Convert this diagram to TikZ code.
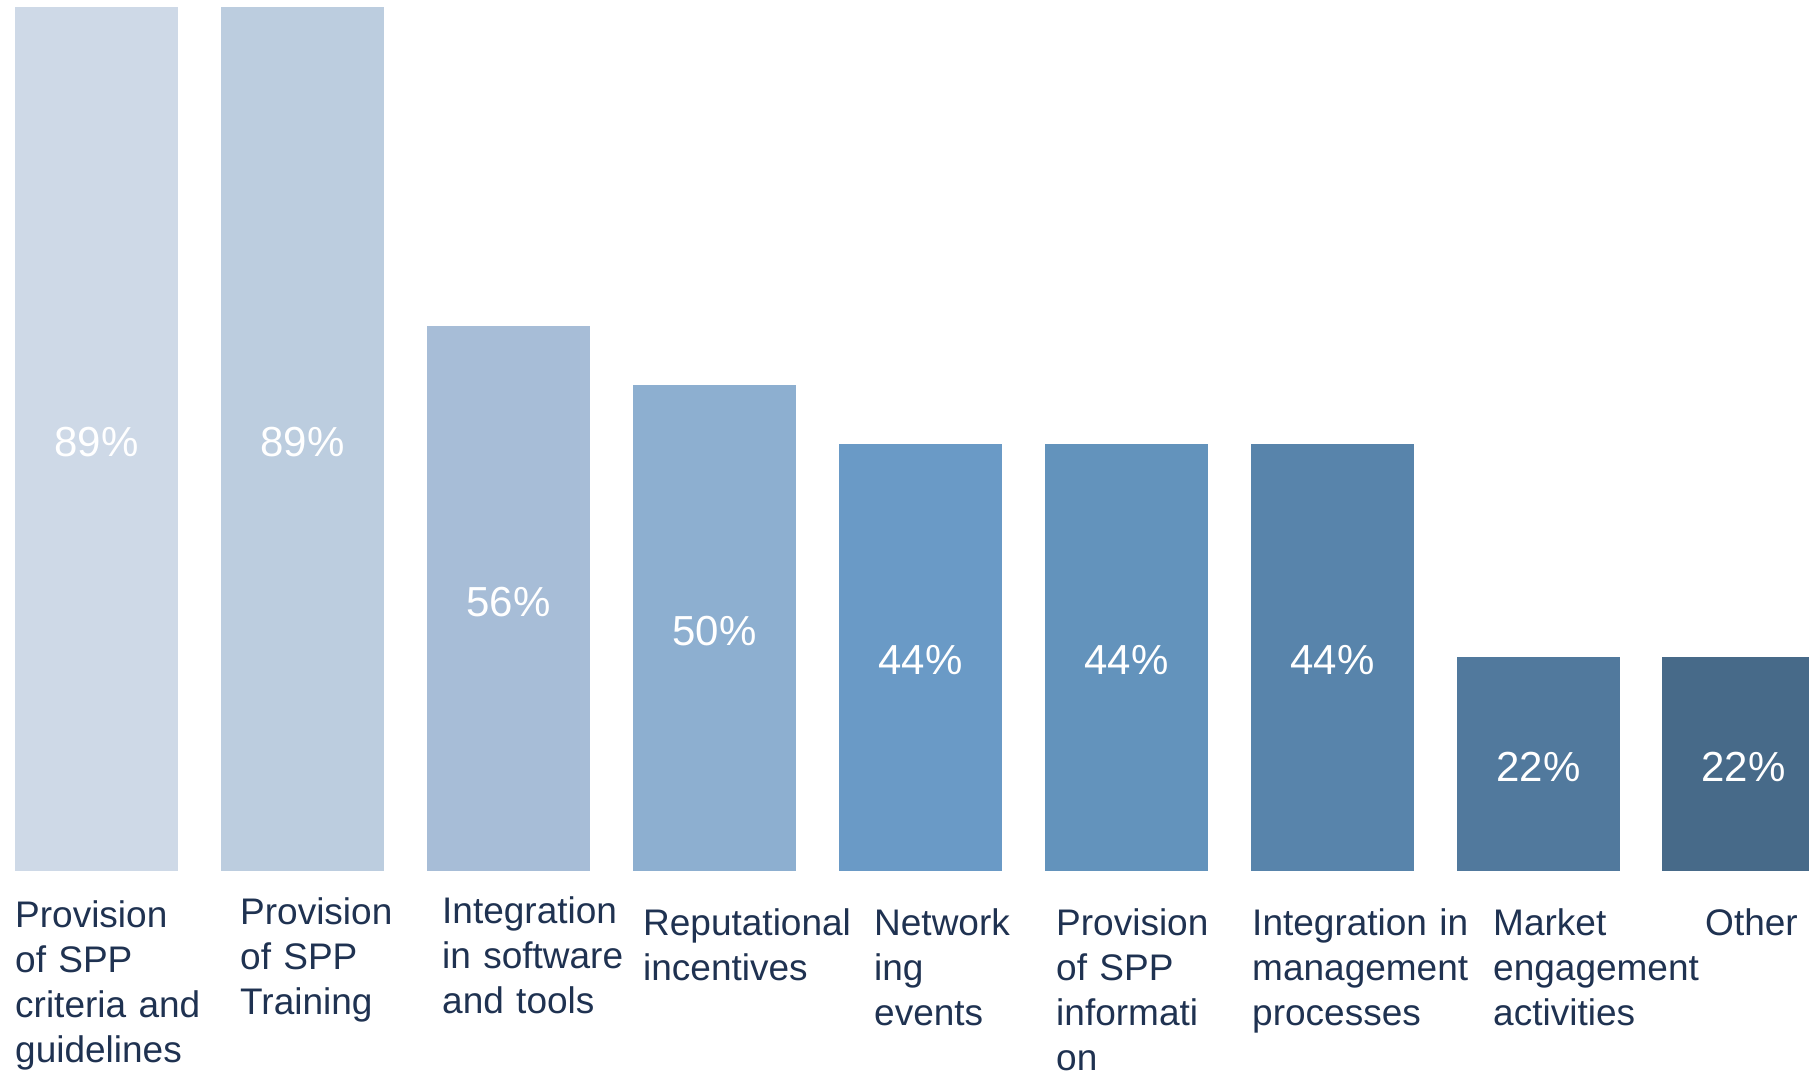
\documentclass[tikz,border=0pt]{standalone}
\usepackage{fontspec}
\setmainfont{Liberation Sans}
\definecolor{cA}{HTML}{CED9E7}
\definecolor{cB}{HTML}{BCCDDF}
\definecolor{cC}{HTML}{A7BDD7}
\definecolor{cD}{HTML}{8DAFD0}
\definecolor{cE}{HTML}{6A9AC6}
\definecolor{cF}{HTML}{6393BC}
\definecolor{cG}{HTML}{5884AB}
\definecolor{cH}{HTML}{51799D}
\definecolor{cI}{HTML}{476A89}
\definecolor{labtext}{HTML}{1F3251}
\tikzset{
  bar/.style={anchor=south west, inner sep=0pt, minimum width=162.5pt,
    text=white, text depth=0pt, text height=35pt, font=\fontsize{42}{50}\selectfont},
  catlabel/.style={anchor=base west, inner sep=0pt, text width=#1, align=left,
    text=labtext, font=\fontsize{37}{45}\selectfont},
  catlabel/.default=180pt
}
\begin{document}
\begin{tikzpicture}[x=1pt,y=-1pt]
\useasboundingbox (0,0) rectangle (1809,1071);
\clip (0,0) rectangle (1809,1071);
% bars (bottom at y=871)
\node[bar, fill=cA, minimum height=864pt] (b1) at (15,871) {89\%};
\node[bar, fill=cB, minimum height=864pt] (b2) at (221,871) {89\%};
\node[bar, fill=cC, minimum height=544.5pt] (b3) at (427,871) {56\%};
\node[bar, fill=cD, minimum height=486pt] (b4) at (633,871) {50\%};
\node[bar, fill=cE, minimum height=427pt] (b5) at (839,871) {44\%};
\node[bar, fill=cF, minimum height=427pt] (b6) at (1045,871) {44\%};
\node[bar, fill=cG, minimum height=427pt] (b7) at (1251,871) {44\%};
\node[bar, fill=cH, minimum height=214pt] (b8) at (1457,871) {22\%};
\node[bar, fill=cI, minimum height=214pt] (b9) at (1662,871) {22\%};
% category labels
\node[catlabel=200pt] (l1) at (15,927) {Provision\\of SPP\\criteria and\\guidelines};
\node[catlabel=170pt] (l2) at (240,924) {Provision\\of SPP\\Training};
\node[catlabel=190pt] (l3) at (442,923) {Integration\\in software\\and tools};
\node[catlabel=220pt] (l4) at (643,935) {Reputational\\incentives};
\node[catlabel=150pt] (l5) at (874,935) {Network\\ing\\events};
\node[catlabel=165pt] (l6) at (1056,935) {Provision\\of SPP\\informati\\on};
\node[catlabel=228pt] (l7) at (1252,935) {Integration in\\management\\processes};
\node[catlabel=210pt] (l8) at (1493,935) {Market\\engagement\\activities};
\node[catlabel=100pt] (l9) at (1705,935) {Other};
\end{tikzpicture}
\end{document}
